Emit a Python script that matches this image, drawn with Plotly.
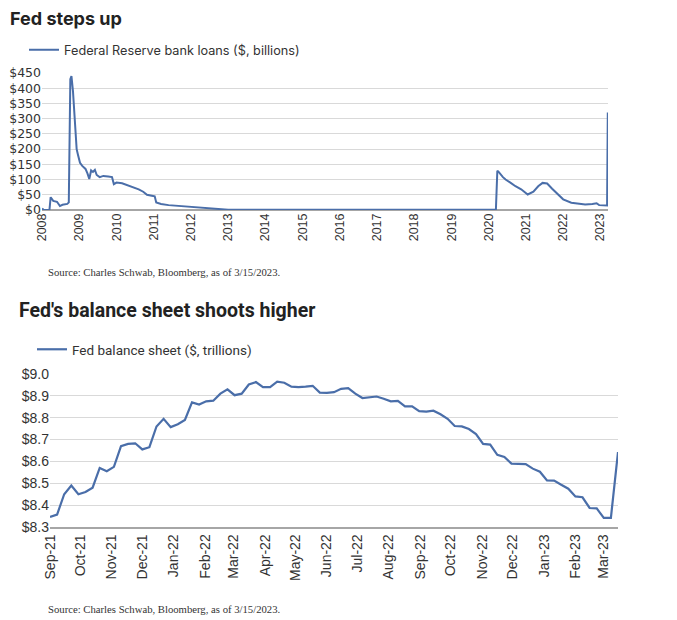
import plotly.graph_objects as go
import pandas as pd

# ---- Chart 1: Federal Reserve bank loans ($, billions) ----
loan_dates = [
    "2008-01-02", "2008-01-20", "2008-03-14", "2008-03-26", "2008-04-20", "2008-05-27",
    "2008-06-25", "2008-07-20", "2008-09-05", "2008-09-20", "2008-10-05", "2008-10-16",
    "2008-10-31", "2008-11-18", "2008-12-06", "2008-12-20", "2009-01-08", "2009-01-30",
    "2009-03-03", "2009-03-22", "2009-04-09", "2009-04-27", "2009-05-15", "2009-06-03",
    "2009-06-21", "2009-07-20", "2009-08-25", "2009-10-12", "2009-11-18", "2009-12-06",
    "2010-01-01", "2010-02-25", "2010-04-20", "2010-06-13", "2010-08-07", "2010-09-20",
    "2010-10-27", "2010-12-13", "2011-01-11", "2011-01-26", "2011-03-14", "2011-05-27",
    "2011-08-08", "2011-11-07", "2012-02-06", "2012-05-08", "2012-07-20", "2012-10-20",
    "2013-01-01", "2014-01-01", "2015-01-01", "2016-01-01", "2017-01-01", "2018-01-01",
    "2019-01-01", "2020-03-12", "2020-03-26", "2020-04-08", "2020-05-20", "2020-06-15",
    "2020-08-01", "2020-09-20", "2020-11-15", "2021-01-18", "2021-03-15", "2021-05-01",
    "2021-06-13", "2021-07-28", "2021-09-15", "2021-10-10", "2021-11-25", "2022-01-01",
    "2022-03-22", "2022-06-01", "2022-08-05", "2022-10-15", "2022-11-25", "2022-12-20",
    "2023-01-15", "2023-03-08", "2023-03-15",
]
loan_values = [
    5, 0, 0, 42, 30, 27,
    13, 17, 20, 25, 430, 440,
    390, 280, 200, 180, 155, 145,
    135, 120, 102, 130, 125, 132,
    115, 108, 112, 110, 108, 85,
    90, 88, 82, 75, 68, 60,
    50, 47, 45, 25, 20, 16,
    14, 12, 10, 8, 5, 2,
    1, 1, 1, 1, 1, 1,
    1, 1, 129, 125, 108, 100,
    90, 78, 68, 51, 60, 78,
    89, 87, 70, 62, 48, 35,
    24, 21, 18, 20, 22, 16,
    15, 15, 320,
]
loan_ticks = [f"{y}-01-01" for y in range(2008, 2024)]
loan_tick_text = [str(y) for y in range(2008, 2024)]
loan_y_ticks = [0, 50, 100, 150, 200, 250, 300, 350, 400, 450]
loan_y_text = ["$0", "$50", "$100", "$150", "$200", "$250", "$300", "$350", "$400", "$450"]

# ---- Chart 2: Fed balance sheet ($, trillions), weekly ----
bs_start = "2021-09-01"
bs_values = [
    8.346, 8.357, 8.45, 8.49, 8.45, 8.46, 8.48, 8.57, 8.555, 8.575,
    8.67, 8.68, 8.683, 8.655, 8.665, 8.76, 8.795, 8.757, 8.77, 8.79,
    8.87, 8.86, 8.875, 8.878, 8.91, 8.93, 8.903, 8.91, 8.952, 8.963,
    8.94, 8.94, 8.965, 8.96, 8.942, 8.94, 8.942, 8.946, 8.915, 8.914,
    8.917, 8.932, 8.935, 8.91, 8.89, 8.895, 8.897, 8.887, 8.875, 8.877,
    8.852, 8.852, 8.83, 8.828, 8.832, 8.816, 8.795, 8.762, 8.76, 8.748,
    8.725, 8.68, 8.677, 8.63, 8.62, 8.59, 8.588, 8.588, 8.567, 8.553,
    8.513, 8.512, 8.493, 8.475, 8.44, 8.436, 8.387, 8.385, 8.342, 8.342,
    8.643,
]
bs_y_ticks = [8.3, 8.4, 8.5, 8.6, 8.7, 8.8, 8.9, 9.0]
bs_y_text = ["$8.3", "$8.4", "$8.5", "$8.6", "$8.7", "$8.8", "$8.9", "$9.0"]

bs_dates = pd.date_range(bs_start, periods=len(bs_values), freq="7D")

W, H = 677, 620
OFF = 8  # page body margin offset
LINE = "#4a6ea9"
GRID = "#d9d9d9"
AXIS = "#a6a6a6"
TXT = "#333333"
TICKFONT = "Liberation Sans, Arial, sans-serif"


def px_x(a, b):
    return [(a - OFF) / W, (b - OFF) / W]


def px_y(top, bottom):
    return [1 - (bottom - OFF) / H, 1 - (top - OFF) / H]


def fx(x):
    return (x - OFF) / W


def fy(y):
    return 1 - (y - OFF) / H


fig = go.Figure()
fig.add_trace(go.Scatter(
    x=loan_dates, y=loan_values, mode="lines",
    line=dict(color=LINE, width=2),
    name="Federal Reserve bank loans ($, billions)",
    xaxis="x", yaxis="y", legend="legend",
))
fig.add_trace(go.Scatter(
    x=bs_dates, y=bs_values, mode="lines",
    line=dict(color=LINE, width=2.2),
    name="Fed balance sheet ($, trillions)",
    xaxis="x2", yaxis="y2", legend="legend2",
))

fig.update_layout(
    width=W, height=H,
    margin=dict(l=0, r=0, t=0, b=0, autoexpand=False),
    paper_bgcolor="white", plot_bgcolor="white",
    font=dict(family=TICKFONT, color=TXT),
    xaxis=dict(
        domain=px_x(42, 608), anchor="y", type="date", automargin=False,
        range=["2008-01-01", "2023-03-17"],
        tickmode="array", tickvals=loan_ticks, ticktext=loan_tick_text,
        tickangle=-90, tickfont=dict(size=12.5, color=TXT),
        showgrid=False, showline=False, zeroline=False, ticks="",
    ),
    yaxis=dict(
        domain=px_y(73, 210), anchor="x", automargin=False,
        range=[0, 450], tickmode="array", tickvals=loan_y_ticks, ticktext=loan_y_text,
        tickfont=dict(family="DejaVu Sans, sans-serif", size=12.5, color=TXT),
        showgrid=True, gridcolor=GRID, gridwidth=1,
        zeroline=True, zerolinecolor=AXIS, zerolinewidth=1.5,
        showline=False, ticks="",
    ),
    xaxis2=dict(
        domain=px_x(50, 618), anchor="y2", type="date", automargin=False,
        range=[bs_dates[0], bs_dates[-1]],
        tickformat="%b-%y", dtick="M1", tick0="2021-09-01",
        tickangle=-90, tickfont=dict(size=14, color=TXT),
        showgrid=False, showline=True, linecolor=AXIS, linewidth=1.5,
        zeroline=False, ticks="",
    ),
    yaxis2=dict(
        domain=px_y(374, 527), anchor="x2", automargin=False,
        range=[8.3, 9.0], tickmode="array", tickvals=bs_y_ticks, ticktext=bs_y_text,
        tickfont=dict(size=14, color=TXT),
        showgrid=True, gridcolor=GRID, gridwidth=1,
        showline=False, zeroline=False, ticks="",
    ),
    legend=dict(
        x=fx(24), y=fy(35), xanchor="left", yanchor="top",
        bgcolor="rgba(0,0,0,0)", itemwidth=30,
        font=dict(family="Inter, Lato, sans-serif", size=12.7, color=TXT),
    ),
    legend2=dict(
        x=fx(32), y=fy(334), xanchor="left", yanchor="top",
        bgcolor="rgba(0,0,0,0)", itemwidth=30,
        font=dict(family="Liberation Sans Narrow, Roboto, sans-serif", size=13.5, color=TXT),
    ),
    showlegend=True,
)

annotations = [
    dict(text="<b>Fed steps up</b>", x=fx(8), y=fy(19), xref="paper", yref="paper",
         xanchor="left", yanchor="middle", showarrow=False,
         font=dict(family="Inter, Lato, sans-serif", size=18, color="#222222")),
    dict(text="<b>Fed's balance sheet shoots higher</b>", x=fx(17), y=fy(310),
         xref="paper", yref="paper", xanchor="left", yanchor="middle", showarrow=False,
         font=dict(family="Liberation Sans Narrow, Roboto, sans-serif", size=19.5, color="#222222")),
    dict(text="Source: Charles Schwab, Bloomberg, as of 3/15/2023.", x=fx(46), y=fy(272),
         xref="paper", yref="paper", xanchor="left", yanchor="middle", showarrow=False,
         font=dict(family="Liberation Serif, Times New Roman, serif", size=10.7, color="#333333")),
    dict(text="Source: Charles Schwab, Bloomberg, as of 3/15/2023.", x=fx(46), y=fy(609),
         xref="paper", yref="paper", xanchor="left", yanchor="middle", showarrow=False,
         font=dict(family="Liberation Serif, Times New Roman, serif", size=10.7, color="#333333")),
]
fig.update_layout(annotations=annotations)

fig.write_html("out.html")
